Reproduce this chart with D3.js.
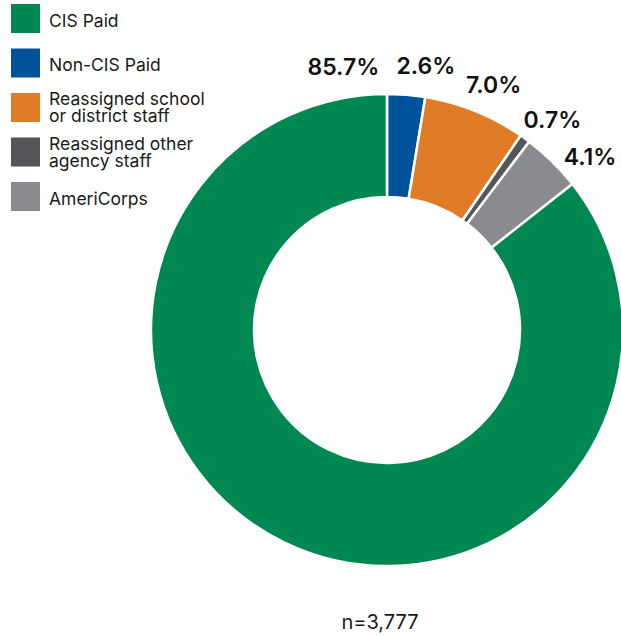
<!DOCTYPE html>
<html>
<head>
<meta charset="utf-8">
<script src="https://cdn.jsdelivr.net/npm/d3@7"></script>
<style>
  html, body { margin: 0; padding: 0; background: #ffffff; }
  svg { display: block; font-family: Inter, "Noto Sans", sans-serif; }
</style>
</head>
<body>
<svg id="chart" width="621" height="636"></svg>
<script>
// Data
const categories = ["Non-CIS Paid", "Reassigned school or district staff", "Reassigned other agency staff", "AmeriCorps", "CIS Paid"];
const values = [2.6, 7.0, 0.7, 4.1, 85.7];
const labels = ["2.6%", "7.0%", "0.7%", "4.1%", "85.7%"];
const colors = ["#00529b", "#e07b28", "#55565a", "#8a8b8e", "#008752"];
const legendOrder = ["CIS Paid", "Non-CIS Paid", "Reassigned school or district staff", "Reassigned other agency staff", "AmeriCorps"];
const legendLines = [["CIS Paid"], ["Non-CIS Paid"], ["Reassigned school", "or district staff"], ["Reassigned other", "agency staff"], ["AmeriCorps"]];
const labelAngleShift = [3.7, 1.6, 2.5, 5.1, -215.3]; // degrees, nudge from slice mid-angle
const note = "n=3,777";

const svg = d3.select("#chart");
const cx = 387, cy = 330, rOuter = 236, rInner = 133, rLabel = 267;

const color = d3.scaleOrdinal().domain(categories).range(colors);
const pie = d3.pie().sort(null).value(d => d.value);
const data = categories.map((c, i) => ({ cat: c, value: values[i], label: labels[i], shift: labelAngleShift[i] }));
const arcs = pie(data);
const arc = d3.arc().innerRadius(rInner).outerRadius(rOuter);

const g = svg.append("g").attr("transform", `translate(${cx},${cy})`);
g.selectAll("path").data(arcs).join("path")
  .attr("d", arc)
  .attr("fill", d => color(d.data.cat))
  .attr("stroke", "#ffffff")
  .attr("stroke-width", 2.5);

g.selectAll("text.lbl").data(arcs).join("text")
  .attr("class", "lbl")
  .attr("x", d => {
    const a = (d.startAngle + d.endAngle) / 2 + d.data.shift * Math.PI / 180;
    return rLabel * Math.sin(a);
  })
  .attr("y", d => {
    const a = (d.startAngle + d.endAngle) / 2 + d.data.shift * Math.PI / 180;
    return -rLabel * Math.cos(a);
  })
  .attr("text-anchor", "middle")
  .attr("dominant-baseline", "central")
  .attr("font-size", 23)
  .attr("font-weight", 600)
  .attr("fill", "#111111")
  .text(d => d.data.label);

// Legend
const legendY = d3.scalePoint().domain(legendOrder).range([4, 182]);
const lg = svg.append("g");
const items = lg.selectAll("g").data(legendOrder).join("g")
  .attr("transform", d => `translate(11,${legendY(d)})`);
items.append("rect").attr("width", 29).attr("height", 29).attr("fill", d => color(d));
items.each(function(d, i) {
  const lines = legendLines[i];
  lines.forEach((ln, j) => {
    d3.select(this).append("text")
      .attr("font-size", 17.5)
      .attr("fill", "#1a1a1a")
      .attr("x", 38)
      .attr("y", lines.length === 1 ? 22.5 : 12 + j * 17)
      .text(ln);
  });
});

svg.append("text")
  .attr("x", 380).attr("y", 629)
  .attr("text-anchor", "middle")
  .attr("font-size", 20)
  .attr("fill", "#1a1a1a")
  .text(note);
</script>
</body>
</html>
